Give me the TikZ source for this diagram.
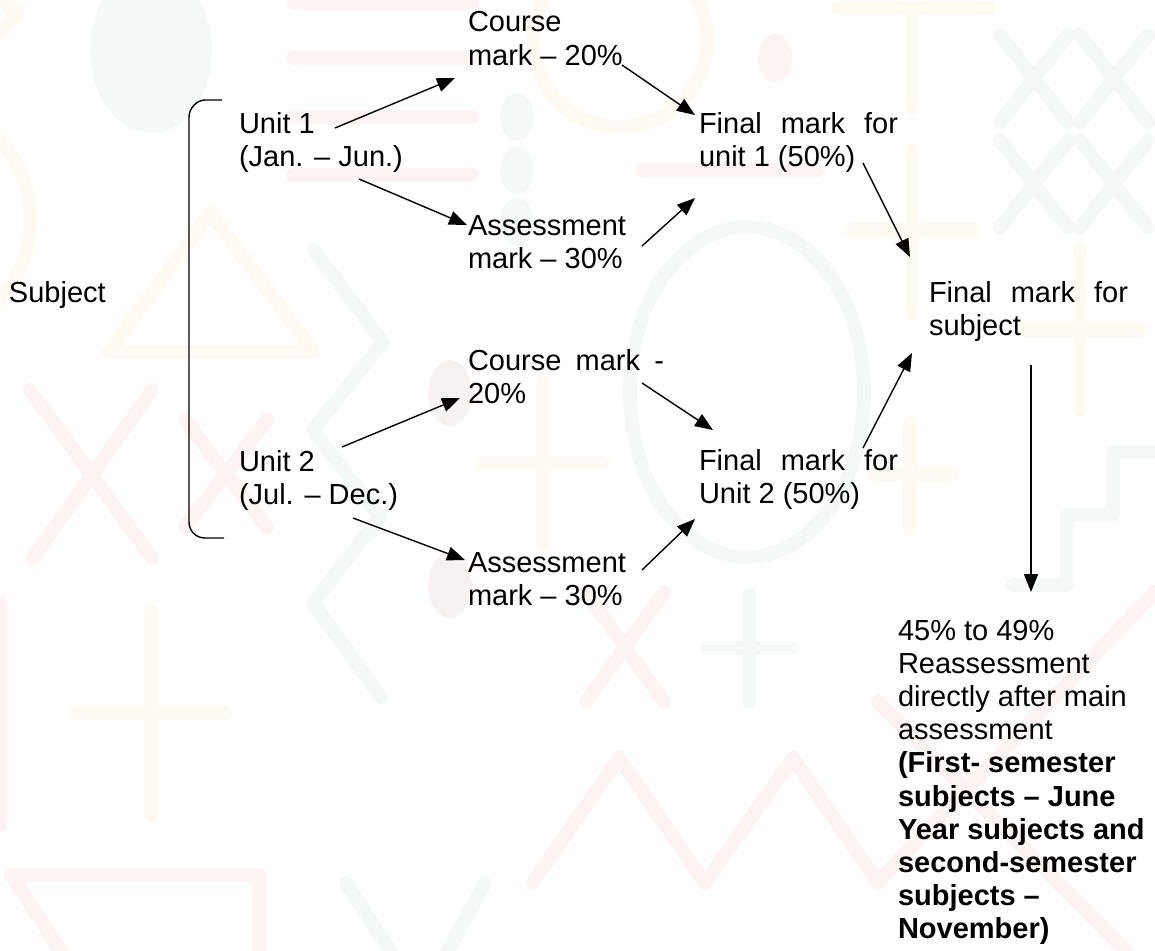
\documentclass[tikz,border=0pt]{standalone}
\usepackage{fontspec}
\setmainfont{Liberation Sans}
\usetikzlibrary{arrows.meta}
\definecolor{wmcream}{RGB}{254,250,241}
\definecolor{wmpink}{RGB}{253,243,243}
\definecolor{wmteal}{RGB}{244,249,248}
\definecolor{wmgray}{RGB}{247,242,242}
\newcommand{\fsz}{\fontsize{29}{33.2}\selectfont}
\newcommand{\lns}[1]{\begin{tabular}[t]{@{}l@{}}#1\end{tabular}}
\begin{document}
\begin{tikzpicture}[x=1pt,y=-1pt,
  txt/.style={anchor=base west,inner sep=0pt,outer sep=0pt,font=\fsz},
  arr/.style={-{Triangle[length=18pt,width=14pt]},line width=1.4pt},
  brk/.style={line width=1.4pt},
  wm/.style={line width=14pt,line cap=round,line join=round},
]
\useasboundingbox (0,0) rectangle (1155,950);
% ---------- faint background watermark ----------
\begin{scope}
\clip (0,0) rectangle (1155,950);
\fill[wmteal] (151,50) ellipse [x radius=61, y radius=83];
\foreach \yy in {117,170,222} \fill[wmteal] (517,\yy) ellipse [x radius=17, y radius=24];
\draw[wm,wmteal] (314,250)--(383,342)--(313,430)--(380,517)--(313,603)--(381,697);
\draw[wm,wmteal] (747,392) ellipse [x radius=117, y radius=165];
\draw[wm,wmteal] (1000,35)--(1068,122) (1068,35)--(1000,122);
\draw[wm,wmteal] (1000,140)--(1068,228) (1068,140)--(1000,228);
\draw[wm,wmteal] (1080,35)--(1148,122) (1148,35)--(1080,122);
\draw[wm,wmteal] (1080,140)--(1148,228) (1148,140)--(1080,228);
\draw[wm,wmteal] (1013,585)--(1067,585)--(1067,515)--(1113,515)--(1113,452)--(1170,452);
\draw[wm,wmteal] (749,595)--(749,702) (708,648)--(790,648);
\draw[wm,wmteal] (346,883)--(400,965) (485,883)--(440,965);
\foreach \yy in {3,58,117,175} \draw[wm,wmpink] (293,\yy)--(472,\yy);
\draw[wm,wmpink] (643,170)--(818,170);
\fill[wmpink] (775,58) ellipse [x radius=17, y radius=24];
\fill[wmgray] (450,393) ellipse [x radius=22, y radius=33];
\fill[wmgray] (450,585) ellipse [x radius=22, y radius=33];
\draw[wm,wmpink] (30,390)--(152,558) (152,390)--(33,558);
\draw[wm,wmpink] (185,420)--(267,527) (267,420)--(185,527);
\draw[wm,wmpink] (0,602)--(0,825);
\draw[wm,wmpink] (70,965)--(11,875)--(259,875)--(259,965);
\draw[wm,wmpink] (533,882)--(619,758)--(705,883)--(793,758)--(878,883);
\draw[wm,wmpink] (586,592)--(664,702) (664,592)--(586,702);
\draw[wm,wmpink] (878,702)--(1140,965) (1155,592)--(880,880);
\draw[wm,wmcream] (620,40) circle [radius=87];
\draw[wm,wmcream] (838,8)--(988,8) (912,8)--(912,107);
\draw[wm,wmcream] (912,150)--(912,313) (852,230)--(973,230);
\draw[wm,wmcream] (1080,250)--(1080,410) (1022,330)--(1140,330);
\draw[wm,wmcream] (910,423)--(910,530) (873,474)--(953,474);
\draw[wm,wmcream] (109,352)--(210,213)--(314,352)--cycle;
\draw[wm,wmcream] (-40,220) ellipse [x radius=70, y radius=95];
\draw[wm,wmcream] (-5,-5)--(18,13)--(0,33);
\draw[wm,wmcream] (543,382)--(543,543) (483,463)--(603,463);
\draw[wm,wmcream] (151,612)--(151,815) (76,713)--(226,713);
\end{scope}
% ---------- text ----------
\node[txt] (subj) at (9,302) {Subject};
\node[txt] (u1) at (239,133) {\lns{Unit 1\\(Jan. – Jun.)}};
\node[txt] (u2) at (239,471) {\lns{Unit 2\\(Jul. – Dec.)}};
\node[txt] (c1) at (468,32) {\lns{Course\\mark – 20\%}};
\node[txt] (a1) at (468,235) {\lns{Assessment\\mark – 30\%}};
\node[txt] (c2) at (468,370) {\lns{\makebox[196pt][s]{Course mark -}\\20\%}};
\node[txt] (a2) at (468,572) {\lns{Assessment\\mark – 30\%}};
\node[txt] (f1) at (699,133) {\lns{\makebox[199pt][s]{Final mark for}\\unit 1 (50\%)}};
\node[txt] (f2) at (699,470) {\lns{\makebox[199pt][s]{Final mark for}\\Unit 2 (50\%)}};
\node[txt] (fs) at (929,302) {\lns{\makebox[199pt][s]{Final mark for}\\subject}};
\node[txt] (re) at (898,640) {\lns{45\% to 49\%\\Reassessment\\directly after main\\assessment\\
  \textbf{(First- semester}\\\textbf{subjects – June}\\\textbf{Year subjects and}\\
  \textbf{second-semester}\\\textbf{subjects –}\\\textbf{November)}}};
% ---------- bracket ----------
\draw[brk] (222,100) -- (205,100) .. controls (197,100) and (189,108) .. (189,117)
  -- (189,522) .. controls (189,531) and (196,538) .. (205,538) -- (224,538);
% ---------- arrows ----------
\draw[arr] ([shift={(96,-5)}]u1.base west) -- ([shift={(-13,46)}]c1.base west);
\draw[arr] ([shift={(120,46)}]u1.base west) -- ([shift={(-1,-10)}]a1.base west);
\draw[arr] ([shift={(154,33)}]c1.base west) -- ([shift={(-4,-18)}]f1.base west);
\draw[arr] ([shift={(174,11)}]a1.base west) -- ([shift={(-4,65)}]f1.base west);
\draw[arr] ([shift={(164,30)}]f1.base west) -- ([shift={(-19,-45)}]fs.base west);
\draw[arr] ([shift={(103,-24)}]u2.base west) -- ([shift={(-8,28)}]c2.base west);
\draw[arr] ([shift={(114,47)}]u2.base west) -- ([shift={(-3,-12)}]a2.base west);
\draw[arr] ([shift={(174,13)}]c2.base west) -- ([shift={(14,-40)}]f2.base west);
\draw[arr] ([shift={(174,-2)}]a2.base west) -- ([shift={(-4,49)}]f2.base west);
\draw[arr] ([shift={(164,-22)}]f2.base west) -- ([shift={(-17,51)}]fs.base west);
\draw[arr] ([shift={(102,63)}]fs.base west) -- ([shift={(133,-48)}]re.base west);
\end{tikzpicture}
\end{document}
